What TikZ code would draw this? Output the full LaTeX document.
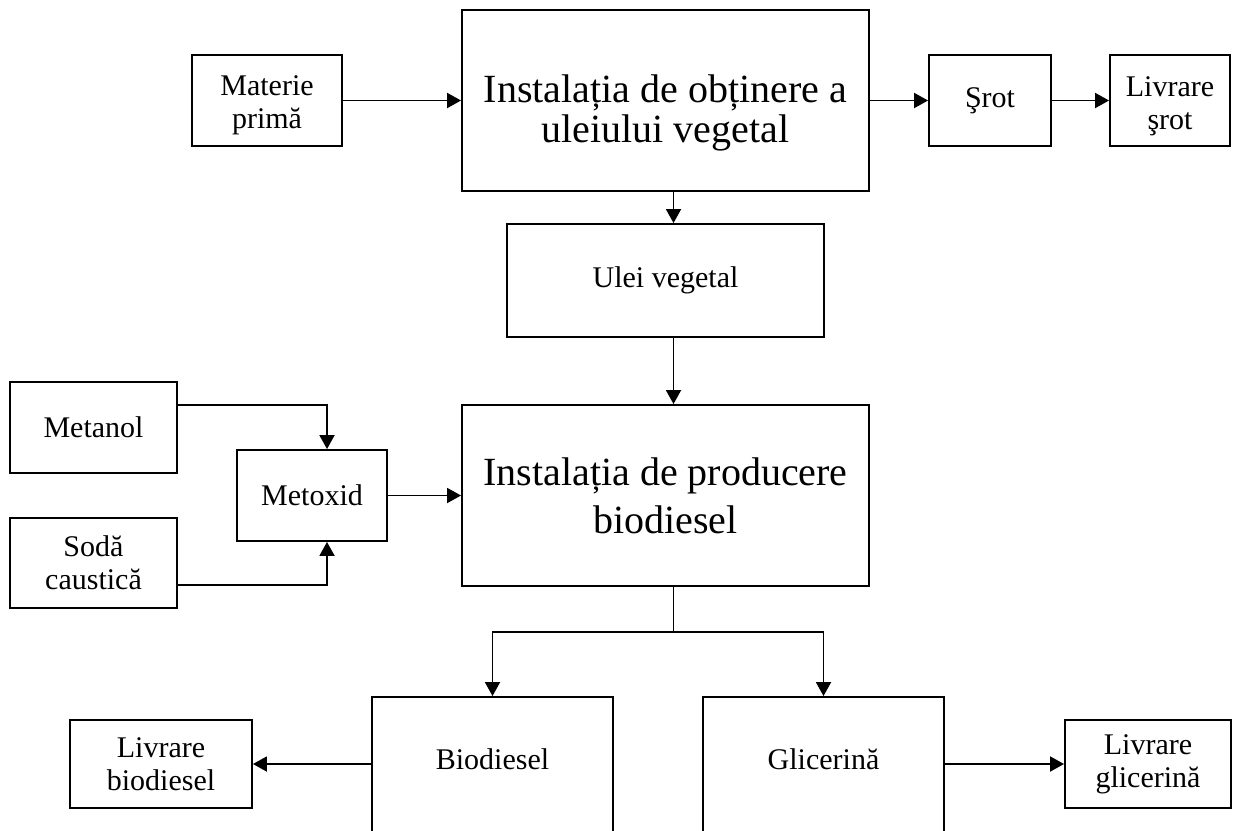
\documentclass[tikz,border=0pt]{standalone}
\usepackage{fontspec}
\setmainfont{Liberation Serif}
\usetikzlibrary{arrows.meta}

\begin{document}
\begin{tikzpicture}[x=0.5pt,y=-0.5pt,line width=0.95pt,>={Triangle[length=7pt,width=7.5pt]}]
\useasboundingbox (0,0) rectangle (1235,830);
\clip (0,0) rectangle (1235,830);
 \begin{scope}[every node/.style={draw, align=center, inner sep=3pt, font=\fontsize{15}{16.5}\selectfont}]
  \node[minimum width=75pt, minimum height=45.5pt] (mat) at (267,100.5) {\rule{0pt}{15pt}Materie\\primă};
  \node[minimum width=61pt, minimum height=45.5pt] (srot) at (990,100.5) {Şrot};
  \node[minimum width=60pt, minimum height=45.5pt] (livsrot) at (1170,100.5) {\rule{0pt}{15.5pt}Livrare\\şrot};
  \node[minimum width=158.5pt, minimum height=56.5pt] (ulei) at (665.5,280.5) {Ulei vegetal};
  \node[minimum width=83.5pt, minimum height=45.5pt] (metanol) at (93.5,427.5) {Metanol};
  \node[minimum width=83.5pt, minimum height=45pt] (soda) at (93.5,563) {Sodă\\caustică};
  \node[minimum width=75pt, minimum height=45.5pt] (metoxid) at (312,495.5) {Metoxid};
  \node[minimum width=91pt, minimum height=44pt] (livbio) at (161,764) {Livrare\\biodiesel};
  \node[minimum width=83pt, minimum height=44pt] (livgli) at (1148,764) {Livrare\\glicerină};
 \end{scope}
 \begin{scope}[every node/.style={draw, align=center, inner sep=3pt, minimum width=203.5pt, minimum height=90.5pt}]
  \node[font=\fontsize{20}{20}\selectfont] (inst1) at (665.5,100.5) {\rule{0pt}{26pt}Instalația de obținere a\\uleiului vegetal};
  \node[font=\fontsize{20}{24}\selectfont] (prod) at (665.5,495.5) {Instalația de producere\\biodiesel};
 \end{scope}
 \begin{scope}[every node/.style={draw, anchor=base, inner sep=4pt, minimum width=120.5pt,
     text height=32pt, text depth=44pt, font=\fontsize{15}{16.5}\selectfont}]
  \node (bio) at (492.5,769) {Biodiesel};
  \node (gli) at (823.5,769) {Glicerină};
 \end{scope}
  \coordinate (axis) at (673.5,0);
  \path [->] (mat) edge (inst1);
  \path [->] (inst1) edge (srot);
  \path [->] (srot) edge (livsrot);
  \draw [->] (inst1.south -| axis) -- (ulei.north -| axis);
  \draw [->] (ulei.south -| axis) -- (prod.north -| axis);
  \draw [->] ([yshift=11.25pt]metanol.east) -| ([xshift=7.5pt]metoxid.north);
  \draw [->] ([yshift=-11pt]soda.east) -| ([xshift=7.5pt]metoxid.south);
  \path [->] (metoxid) edge (prod);
  \draw (prod.south -| axis) -- ++(0,45) coordinate (split);
  \draw [->] (split) -| (bio.north);
  \draw [->] (split) -| (gli.north);
  \draw [->] (livbio.east -| bio.west) -- (livbio.east);
  \draw [->] (livgli.west -| gli.east) -- (livgli.west);
\end{tikzpicture}
\end{document}
